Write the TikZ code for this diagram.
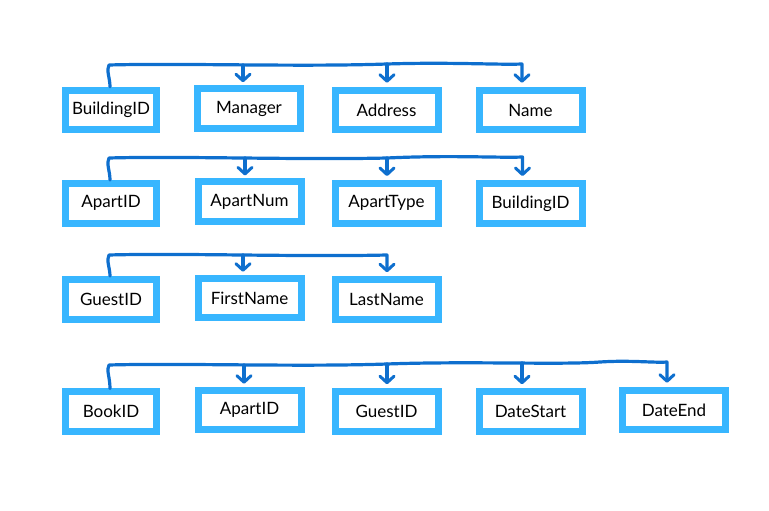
\documentclass[tikz,border=0pt]{standalone}
\usepackage{fontspec}
\setmainfont{Lato}
\usetikzlibrary{arrows.meta,calc}
\definecolor{boxblue}{RGB}{56,182,255}
\definecolor{linkblue}{RGB}{14,111,206}
\tikzset{
  field/.style={draw=boxblue, fill=white, line width=7pt, inner sep=0pt,
    outer sep=3.5pt, minimum height=39.5pt, font=\fontsize{17}{19}\selectfont},
  keyfield/.style={field, minimum width=91pt},
  plainfield/.style={field, minimum width=103pt},
  conn/.style={draw=linkblue, line width=3.2pt, line cap=round, line join=round},
  arr/.style={conn, -{Straight Barb[length=6.5pt,width=14pt,line width=3pt,round]}}
}
\begin{document}
\begin{tikzpicture}[x=1pt,y=-1pt]
\useasboundingbox (0,0) rectangle (769,511);
% Row 1
\node[keyfield]   (b1) at (111,110)   {BuildingID};
\node[plainfield] (b2) at (249,108.5) {Manager};
\node[plainfield] (b3) at (386.5,110) {Address};
\node[plainfield] (b4) at (530.5,110) {Name};
% Row 2
\node[keyfield]   (a1) at (111,203.3)   {ApartID};
\node[plainfield] (a2) at (249.5,201.7) {ApartNum};
\node[plainfield] (a3) at (386.5,203.3) {ApartType};
\node[plainfield] (a4) at (530.5,203.3) {BuildingID};
% Row 3
\node[keyfield]   (g1) at (111,299.3)   {GuestID};
\node[plainfield] (g2) at (249.5,298)   {FirstName};
\node[plainfield] (g3) at (386.5,299.5) {LastName};
% Row 4
\node[keyfield]   (k1) at (111,411.7)   {BookID};
\node[plainfield] (k2) at (249.5,410)   {ApartID};
\node[plainfield] (k3) at (386.5,411.5) {GuestID};
\node[plainfield] (k4) at (530.5,411.5) {DateStart};
\node[plainfield] (k5) at (674,410)     {DateEnd};

% ---- connectors row 1
\coordinate (r1m) at (243,65);
\coordinate (r1n) at (387,64);
\draw[arr] ([xshift=-1pt]b1.north) .. controls (110,78) and (106,70) .. (109,65)
  .. controls (180,63) and (300,67) .. (387,64)
  .. controls (450,62) and (500,65) .. (522,64)
  -- ($([xshift=-8.5pt]b4.north)+(0,-4)$);
\draw[arr] (r1m) -- ($(r1m |- b2.north)+(0,-3)$);
\draw[arr] (r1n) -- ($(r1n |- b3.north)+(0,-4)$);

% ---- connectors row 2
\coordinate (r2m) at (245,158);
\coordinate (r2n) at (387,158);
\draw[arr] ([xshift=-1pt]a1.north) .. controls (110,171) and (106,163) .. (109,158)
  .. controls (180,156) and (300,160) .. (387,158)
  .. controls (450,155) and (500,158) .. (522.5,157)
  -- ($([xshift=-8pt]a4.north)+(0,-4)$);
\draw[arr] (r2m) -- ($(r2m |- a2.north)+(0,-3)$);
\draw[arr] (r2n) -- ($(r2n |- a3.north)+(0,-4)$);

% ---- connectors row 3
\coordinate (r3m) at (243,255);
\draw[arr] ([xshift=-1pt]g1.north) .. controls (110,268) and (106,260) .. (109,255)
  .. controls (180,253) and (300,257) .. (387,255)
  -- ($([xshift=0.5pt]g3.north)+(0,-4)$);
\draw[arr] (r3m) -- ($(r3m |- g2.north)+(0,-3)$);

% ---- connectors row 4
\coordinate (r4m) at (244,365);
\coordinate (r4n) at (387,364);
\coordinate (r4o) at (522,363);
\draw[arr] ([xshift=-1pt]k1.north) .. controls (110,377) and (106,370) .. (109,365)
  .. controls (180,363) and (300,367) .. (387,364)
  .. controls (470,361) and (560,365) .. (600,362)
  .. controls (630,360) and (655,363) .. (667,362)
  -- ($([xshift=-7pt]k5.north)+(0,-4)$);
\draw[arr] (r4m) -- ($(r4m |- k2.north)+(0,-3)$);
\draw[arr] (r4n) -- ($(r4n |- k3.north)+(0,-4)$);
\draw[arr] (r4o) -- ($(r4o |- k4.north)+(0,-4)$);
\end{tikzpicture}
\end{document}
